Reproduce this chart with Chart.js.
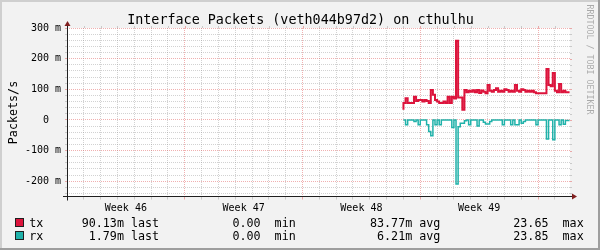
<!DOCTYPE html>
<html><head><meta charset="utf-8">
<style>html,body{margin:0;padding:0;background:#F2F2F2;}canvas{display:block;}</style>
<script src="https://cdn.jsdelivr.net/npm/chart.js"></script>
</head><body>
<canvas id="c" width="600" height="250"></canvas>
<script>
const chartTitle = 'Interface Packets (veth044b97d2) on cthulhu';
const yAxisTitle = 'Packets/s';
const watermarkText = 'RRDTOOL / TOBI OETIKER';
const weekLabels = ['Week 46', 'Week 47', 'Week 48', 'Week 49'];
const weekLabelDays = [3.5, 10.5, 17.5, 24.5];
const majorGridDays = [0, 7, 14, 21, 28];
const xMinDay = 0, xMaxDay = 29.9;
const yTickValues = [-200, -100, 0, 100, 200, 300];
const yTickLabels = ['-200 m', '-100 m', '0  ', '100 m', '200 m', '300 m'];
const yMin = -250, yMax = 300, yMinorStep = 20;

// samples every 3 hours, starting at day 20 of the period (milli-packets/s)
const sampleStartDay = 20.0;
const sampleStepDays = 0.125;
const txValues = [33, 55, 71, 55, 55, 55, 76, 62, 65, 65, 60, 65, 62, 55, 98, 82, 65, 60, 55, 55,
  60, 55, 76, 55, 76, 70, 258, 73, 73, 33, 98, 90, 95, 92, 97, 90, 98, 88, 96, 92,
  87, 114, 95, 92, 98, 103, 92, 95, 92, 100, 98, 92, 95, 92, 114, 95, 92, 100, 98, 92,
  95, 92, 95, 90, 87, 87, 87, 87, 87, 166, 114, 110, 153, 95, 90, 117, 90, 95, 90];
const rxValues = [0, 0, -16, 0, 0, 0, -5, 0, -16, 0, 0, 0, -16, -38, -52, 0, -16, 0, -16, 0,
  0, 0, 0, 0, -25, 0, -209, -22, -11, -11, -3, 0, -16, 0, 0, 0, -20, 0, 0, -8,
  -13, -13, -5, 0, 0, 0, 0, 0, -16, 0, 0, 0, -16, 0, -16, -16, 0, -11, -5, 0,
  0, 0, 0, 0, -16, 0, 0, 0, 0, -62, 0, 0, -65, 0, 0, -16, 0, -14, -2];

const seriesNames = ['tx', 'rx'];
const seriesColors = ['#DC143C', '#20B2AA'];
const legendLast = ['90.13m', '1.79m'];
const legendMin = ['0.00', '0.00'];
const legendAvg = ['83.77m', '6.21m'];
const legendMax = ['23.65', '23.85'];

const MONO = '"DejaVu Sans Mono", "Liberation Mono", monospace';
const GRID_MINOR = 'rgba(143,143,143,0.4)';
const GRID_MAJOR = 'rgba(222,79,79,0.45)';
const NONE = 'rgba(0,0,0,0)';

function toPoints(vals) {
  const pts = vals.map((v, i) => ({x: sampleStartDay + i * sampleStepDays, y: v}));
  pts.push({x: sampleStartDay + vals.length * sampleStepDays, y: vals[vals.length - 1]});
  return pts;
}

function xGridColor(ctx) {
  const v = ctx.tick ? ctx.tick.value : null;
  if (weekLabelDays.includes(v)) return NONE;
  if (majorGridDays.includes(v)) return GRID_MAJOR;
  return GRID_MINOR;
}
function yGridColor(ctx) {
  const v = ctx.tick ? ctx.tick.value : null;
  if (v === null) return NONE;
  return (v % 100 === 0) ? GRID_MAJOR : GRID_MINOR;
}

const decor = {
  id: 'decor',
  beforeDraw(chart) {
    const {ctx, chartArea: a} = chart;
    ctx.save();
    ctx.fillStyle = '#F2F2F2';
    ctx.fillRect(0, 0, chart.width, chart.height);
    ctx.fillStyle = '#FFFFFF';
    ctx.fillRect(a.left, a.top, a.right - a.left, a.bottom - a.top);
    ctx.restore();
  },
  afterDraw(chart) {
    const {ctx, chartArea: a} = chart;
    const xs = chart.scales.x, ys = chart.scales.y;
    ctx.save();
    ctx.lineWidth = 1;
    xs.ticks.forEach(t => {
      if (weekLabelDays.includes(t.value)) return;
      const px = Math.round(xs.getPixelForValue(t.value)) + 0.5;
      ctx.strokeStyle = majorGridDays.includes(t.value) ? GRID_MAJOR : GRID_MINOR;
      ctx.beginPath(); ctx.moveTo(px, a.top - 2); ctx.lineTo(px, a.top); ctx.stroke();
    });
    ys.ticks.forEach(t => {
      const py = Math.round(ys.getPixelForValue(t.value)) + 0.5;
      ctx.strokeStyle = (t.value % 100 === 0) ? GRID_MAJOR : GRID_MINOR;
      ctx.beginPath(); ctx.moveTo(a.right, py); ctx.lineTo(a.right + 2, py); ctx.stroke();
    });
    const x0 = Math.round(a.left) + 0.5;
    const y0 = Math.round(a.bottom) - 0.5;
    ctx.strokeStyle = '#1F1F1F';
    ctx.beginPath();
    ctx.moveTo(a.left - 4, y0); ctx.lineTo(a.right + 4, y0);
    ctx.moveTo(x0, a.bottom + 4); ctx.lineTo(x0, a.top - 4);
    ctx.stroke();
    ctx.fillStyle = '#801F1F';
    ctx.beginPath();
    ctx.moveTo(a.right + 2, y0 - 3); ctx.lineTo(a.right + 2, y0 + 3); ctx.lineTo(a.right + 7, y0);
    ctx.closePath(); ctx.fill();
    ctx.beginPath();
    ctx.moveTo(x0 - 3, a.top - 2); ctx.lineTo(x0 + 3, a.top - 2); ctx.lineTo(x0, a.top - 7);
    ctx.closePath(); ctx.fill();
    ctx.fillStyle = '#000';
    ctx.font = '13.4px ' + MONO;
    ctx.textAlign = 'center';
    ctx.textBaseline = 'alphabetic';
    ctx.fillText(chartTitle, 300.5, 24);
    ctx.save();
    ctx.translate(16.5, 112.5);
    ctx.rotate(-Math.PI / 2);
    ctx.font = '11.7px ' + MONO;
    ctx.fillText(yAxisTitle, 0, 0);
    ctx.restore();
    ctx.save();
    ctx.translate(587.3, 4.5);
    ctx.rotate(Math.PI / 2);
    ctx.font = '8.3px ' + MONO;
    ctx.textAlign = 'left';
    ctx.fillStyle = 'rgba(0,0,0,0.3)';
    ctx.fillText(watermarkText, 0, 0);
    ctx.restore();
    ctx.font = '11.7px ' + MONO;
    ctx.textAlign = 'left';
    const rowBase = [227, 240];
    seriesNames.forEach((name, k) => {
      const b = rowBase[k];
      ctx.fillStyle = seriesColors[k];
      ctx.fillRect(15, b - 9, 9, 9);
      ctx.strokeStyle = '#1F1F1F';
      ctx.strokeRect(15.5, b - 8.5, 8, 8);
      ctx.fillStyle = '#000';
      ctx.fillText(name, 29.3, b);
      ctx.fillText(legendLast[k].padStart(6) + ' last', 81.7, b);
      ctx.fillText(legendMin[k] + '  min', 232.4, b);
      ctx.fillText(legendAvg[k].padStart(6) + ' avg', 370, b);
      ctx.fillText(legendMax[k] + '  max', 513.3, b);
    });
    ctx.fillStyle = '#CFCFCF';
    ctx.fillRect(0, 0, 600, 2); ctx.fillRect(0, 0, 2, 250);
    ctx.fillStyle = '#9E9E9E';
    ctx.fillRect(0, 248, 600, 2); ctx.fillRect(598, 0, 2, 250);
    ctx.restore();
  }
};

new Chart(document.getElementById('c'), {
  type: 'line',
  data: {
    datasets: [
      {label: seriesNames[0], data: toPoints(txValues), borderColor: seriesColors[0], borderWidth: 2,
        stepped: 'after', pointRadius: 0, fill: false},
      {label: seriesNames[1], data: toPoints(rxValues), borderColor: seriesColors[1], borderWidth: 1.5,
        stepped: 'after', pointRadius: 0, fill: false}
    ]
  },
  options: {
    responsive: false,
    devicePixelRatio: 1,
    animation: false,
    layout: {padding: {left: 0, right: 30, top: 28, bottom: 0}},
    plugins: {legend: {display: false}, tooltip: {enabled: false}, title: {display: false}},
    scales: {
      x: {
        type: 'linear', min: xMinDay, max: xMaxDay,
        afterBuildTicks(scale) {
          const t = [];
          for (let d = 0; d <= 29; d++) t.push({value: d});
          weekLabelDays.forEach(v => t.push({value: v}));
          t.sort((p, q) => p.value - q.value);
          scale.ticks = t;
        },
        afterFit(scale) { scale.height = 53.5; },
        ticks: {
          autoSkip: false, maxRotation: 0, minRotation: 0, padding: 3,
          color: '#000', font: {family: MONO, size: 10},
          callback(value) { const k = weekLabelDays.indexOf(value); return k >= 0 ? weekLabels[k] : ''; }
        },
        grid: {color: xGridColor, lineWidth: 1, drawTicks: true, tickLength: 3, tickColor: xGridColor},
        border: {display: false, dash: [1, 1]}
      },
      y: {
        type: 'linear', min: yMin, max: yMax,
        afterBuildTicks(scale) {
          const t = [];
          for (let v = yMin + 10; v <= yMax; v += yMinorStep) t.push({value: v});
          scale.ticks = t;
        },
        afterFit(scale) { scale.width = 67; },
        ticks: {
          autoSkip: false, padding: 4, color: '#000', font: {family: MONO, size: 10},
          callback(value) { const k = yTickValues.indexOf(value); return k >= 0 ? yTickLabels[k] : ''; }
        },
        grid: {color: yGridColor, lineWidth: 1, drawTicks: true, tickLength: 2, tickColor: yGridColor},
        border: {display: false, dash: [1, 1]}
      }
    }
  },
  plugins: [decor]
});
</script>
</body></html>
